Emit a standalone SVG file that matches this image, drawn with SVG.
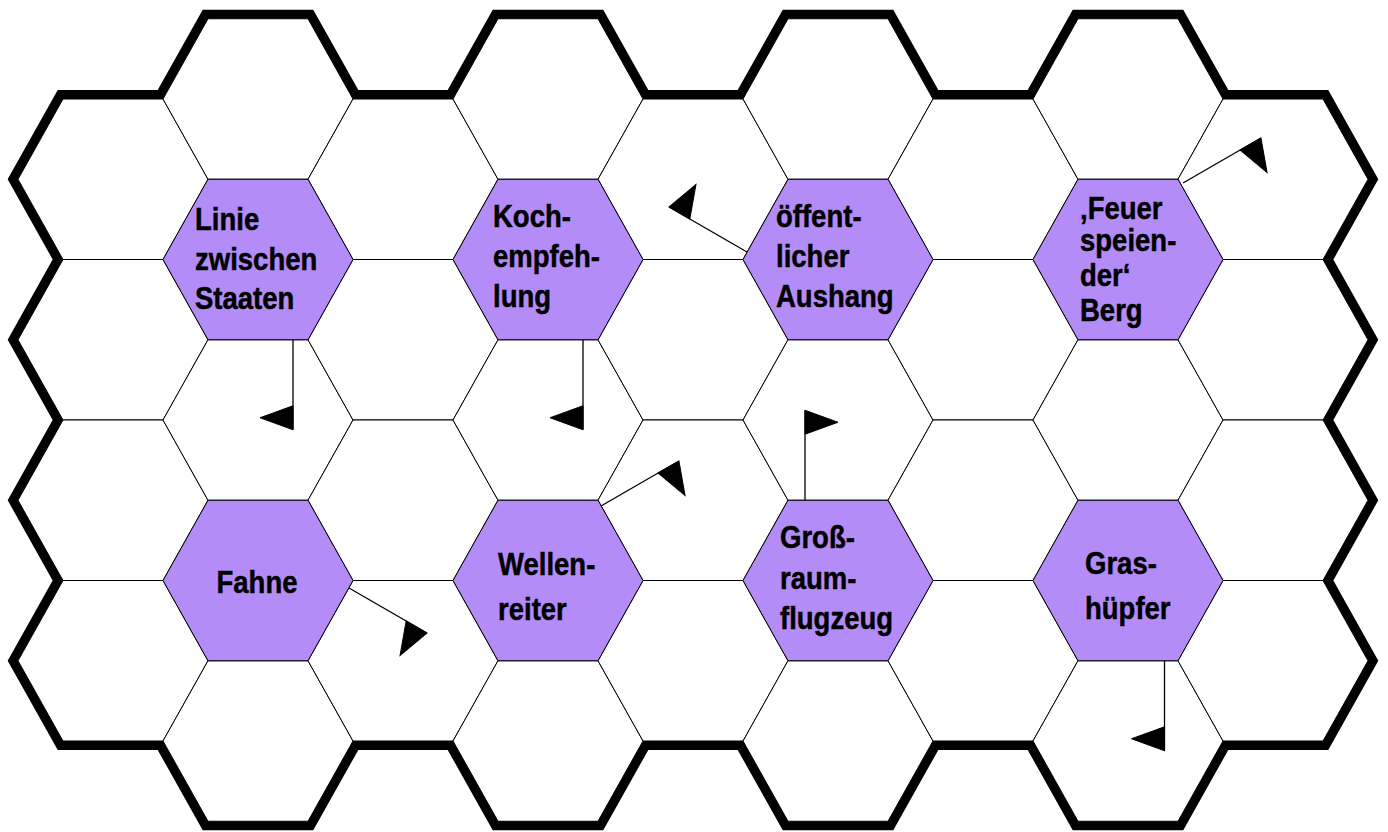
<svg xmlns="http://www.w3.org/2000/svg" xmlns:xlink="http://www.w3.org/1999/xlink" width="1388" height="832" viewBox="0 0 1388 832">
  <defs>
    <style>
      .border { fill: #ffffff; stroke: #000000; stroke-width: 18; stroke-linejoin: miter; stroke-miterlimit: 4; }
      .cell { fill: #ffffff; stroke: #000000; stroke-width: 1; }
      .node { fill: #b48cf8; stroke: #000000; stroke-width: 1; }
      .lbl { font-family: "Liberation Sans", Arial, Helvetica, sans-serif; font-weight: bold; font-size: 32px; fill: #000000; stroke: #000000; stroke-width: 0.5; }
      .pole { stroke: #000000; stroke-width: 1.3; fill: none; }
      .pennant { fill: #000000; stroke: #000000; stroke-width: 1; stroke-linejoin: miter; }
    </style>
    <polygon id="hx" points="-95,0 -50,-80.25 50,-80.25 95,0 50,80.25 -50,80.25"/>
    <g id="flag">
      <line class="pole" x1="0" y1="0" x2="0" y2="90"/>
      <polygon class="pennant" points="0,66 0,90 -33,78"/>
    </g>
  </defs>

  <rect x="0" y="0" width="1388" height="832" fill="#ffffff"/>

  <!-- thick outer border (outer half remains visible) -->
  <polygon class="border" points="18,179.25 63,99 163,99 208,18.75 308,18.75 353,99 453,99 498,18.75 598,18.75 643,99 743,99 788,18.75 888,18.75 933,99 1033,99 1078,18.75 1178,18.75 1223,99 1323,99 1368,179.25 1323,259.5 1368,339.75 1323,420 1368,500.25 1323,580.5 1368,660.75 1323,741 1223,741 1178,821.25 1078,821.25 1033,741 933,741 888,821.25 788,821.25 743,741 643,741 598,821.25 498,821.25 453,741 353,741 308,821.25 208,821.25 163,741 63,741 18,660.75 63,580.5 18,500.25 63,420 18,339.75 63,259.5"/>

  <!-- white grid cells -->
  <g id="grid">
    <use xlink:href="#hx" href="#hx" class="cell" x="113" y="179.25"/>
    <use xlink:href="#hx" href="#hx" class="cell" x="113" y="339.75"/>
    <use xlink:href="#hx" href="#hx" class="cell" x="113" y="500.25"/>
    <use xlink:href="#hx" href="#hx" class="cell" x="113" y="660.75"/>

    <use xlink:href="#hx" href="#hx" class="cell" x="258" y="99"/>
    <use xlink:href="#hx" href="#hx" class="cell" x="258" y="420"/>
    <use xlink:href="#hx" href="#hx" class="cell" x="258" y="741"/>

    <use xlink:href="#hx" href="#hx" class="cell" x="403" y="179.25"/>
    <use xlink:href="#hx" href="#hx" class="cell" x="403" y="339.75"/>
    <use xlink:href="#hx" href="#hx" class="cell" x="403" y="500.25"/>
    <use xlink:href="#hx" href="#hx" class="cell" x="403" y="660.75"/>

    <use xlink:href="#hx" href="#hx" class="cell" x="548" y="99"/>
    <use xlink:href="#hx" href="#hx" class="cell" x="548" y="420"/>
    <use xlink:href="#hx" href="#hx" class="cell" x="548" y="741"/>

    <use xlink:href="#hx" href="#hx" class="cell" x="693" y="179.25"/>
    <use xlink:href="#hx" href="#hx" class="cell" x="693" y="339.75"/>
    <use xlink:href="#hx" href="#hx" class="cell" x="693" y="500.25"/>
    <use xlink:href="#hx" href="#hx" class="cell" x="693" y="660.75"/>

    <use xlink:href="#hx" href="#hx" class="cell" x="838" y="99"/>
    <use xlink:href="#hx" href="#hx" class="cell" x="838" y="420"/>
    <use xlink:href="#hx" href="#hx" class="cell" x="838" y="741"/>

    <use xlink:href="#hx" href="#hx" class="cell" x="983" y="179.25"/>
    <use xlink:href="#hx" href="#hx" class="cell" x="983" y="339.75"/>
    <use xlink:href="#hx" href="#hx" class="cell" x="983" y="500.25"/>
    <use xlink:href="#hx" href="#hx" class="cell" x="983" y="660.75"/>

    <use xlink:href="#hx" href="#hx" class="cell" x="1128" y="99"/>
    <use xlink:href="#hx" href="#hx" class="cell" x="1128" y="420"/>
    <use xlink:href="#hx" href="#hx" class="cell" x="1128" y="741"/>

    <use xlink:href="#hx" href="#hx" class="cell" x="1273" y="179.25"/>
    <use xlink:href="#hx" href="#hx" class="cell" x="1273" y="339.75"/>
    <use xlink:href="#hx" href="#hx" class="cell" x="1273" y="500.25"/>
    <use xlink:href="#hx" href="#hx" class="cell" x="1273" y="660.75"/>
  </g>

  <!-- nodes -->
  <g id="node-linie">
    <use xlink:href="#hx" href="#hx" class="node" x="258" y="259.5"/>
    <text class="lbl" transform="translate(195 0) scale(0.86 1)"><tspan x="0" y="230">Linie</tspan><tspan x="0" y="270">zwischen</tspan><tspan x="0" y="309">Staaten</tspan></text>
  </g>
  <g id="node-koch">
    <use xlink:href="#hx" href="#hx" class="node" x="548" y="259.5"/>
    <text class="lbl" transform="translate(493 0) scale(0.86 1)"><tspan x="0" y="227">Koch-</tspan><tspan x="0" y="267">empfeh-</tspan><tspan x="0" y="307">lung</tspan></text>
  </g>
  <g id="node-aushang">
    <use xlink:href="#hx" href="#hx" class="node" x="838" y="259.5"/>
    <text class="lbl" transform="translate(776 0) scale(0.86 1)"><tspan x="0" y="227">öffent-</tspan><tspan x="0" y="267">licher</tspan><tspan x="0" y="307">Aushang</tspan></text>
  </g>
  <g id="node-berg">
    <use xlink:href="#hx" href="#hx" class="node" x="1128" y="259.5"/>
    <text class="lbl" transform="translate(1080 0) scale(0.86 1)"><tspan x="0" y="219">‚Feuer</tspan><tspan x="0" y="251">speien-</tspan><tspan x="0" y="286">der‘</tspan><tspan x="0" y="321">Berg</tspan></text>
  </g>
  <g id="node-fahne">
    <use xlink:href="#hx" href="#hx" class="node" x="258" y="580.5"/>
    <text class="lbl" text-anchor="middle" transform="translate(257 0) scale(0.86 1)"><tspan x="0" y="593">Fahne</tspan></text>
  </g>
  <g id="node-wellenreiter">
    <use xlink:href="#hx" href="#hx" class="node" x="548" y="580.5"/>
    <text class="lbl" transform="translate(498 0) scale(0.86 1)"><tspan x="0" y="575">Wellen-</tspan><tspan x="0" y="620">reiter</tspan></text>
  </g>
  <g id="node-flugzeug">
    <use xlink:href="#hx" href="#hx" class="node" x="838" y="580.5"/>
    <text class="lbl" transform="translate(780 0) scale(0.86 1)"><tspan x="0" y="548">Groß-</tspan><tspan x="0" y="589">raum-</tspan><tspan x="0" y="629">flugzeug</tspan></text>
  </g>
  <g id="node-grashuepfer">
    <use xlink:href="#hx" href="#hx" class="node" x="1128" y="580.5"/>
    <text class="lbl" transform="translate(1085 0) scale(0.86 1)"><tspan x="0" y="574">Gras-</tspan><tspan x="0" y="619">hüpfer</tspan></text>
  </g>

  <!-- flags -->
  <g id="connectors">
    <use xlink:href="#flag" href="#flag" transform="translate(293 339.75)"/>
    <use xlink:href="#flag" href="#flag" transform="translate(583 339.75)"/>
    <use xlink:href="#flag" href="#flag" transform="translate(747 252) rotate(120)"/>
    <use xlink:href="#flag" href="#flag" transform="translate(1183 183) rotate(240)"/>
    <use xlink:href="#flag" href="#flag" transform="translate(349 588) rotate(-60)"/>
    <use xlink:href="#flag" href="#flag" transform="translate(601 506) rotate(240)"/>
    <use xlink:href="#flag" href="#flag" transform="translate(805 500.25) rotate(180)"/>
    <use xlink:href="#flag" href="#flag" transform="translate(1164.5 660.75)"/>
  </g>
</svg>
